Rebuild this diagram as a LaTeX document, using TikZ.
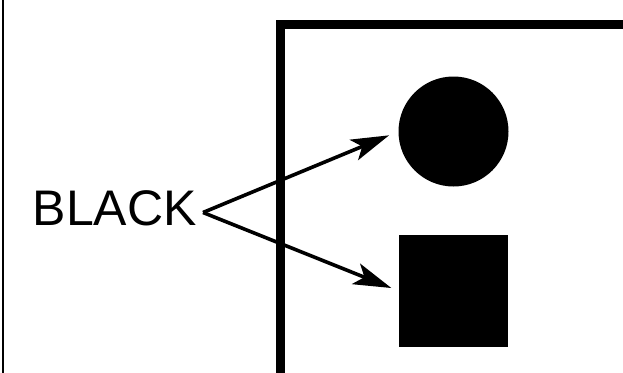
\documentclass[tikz,border=0pt]{standalone}
\usepackage{fontspec}
\setmainfont{Liberation Sans}
\usetikzlibrary{arrows.meta}
\begin{document}
\begin{tikzpicture}[x=1pt,y=-1pt,
  frame/.style={line width=9pt},
  pointer/.style={line width=3.6pt,-{Stealth[length=38pt,width=22pt,inset=9pt]}},
  lbl/.style={inner sep=0pt,font=\fontsize{50}{60}\selectfont}]
\useasboundingbox (0,0) rectangle (623,372);
\draw[line width=2pt] (3,-2) -- (3,374);
\draw[frame] (280,380) -- (280,24.5) -- (630,24.5);
\node[circle,fill=black,inner sep=0pt,minimum size=110pt] (circ) at (453.5,131.5) {};
\node[rectangle,fill=black,inner sep=0pt,minimum width=109pt,minimum height=112pt] (sq) at (453.5,291) {};
\node[lbl,anchor=base west] (black) at (32.5,225) {BLACK};
\coordinate (v) at (203,212.5);
\draw[pointer,shorten >=10pt] (v) -- (circ.west);
\draw[pointer,shorten >=8pt] (v) -- (sq.west);
\end{tikzpicture}
\end{document}
